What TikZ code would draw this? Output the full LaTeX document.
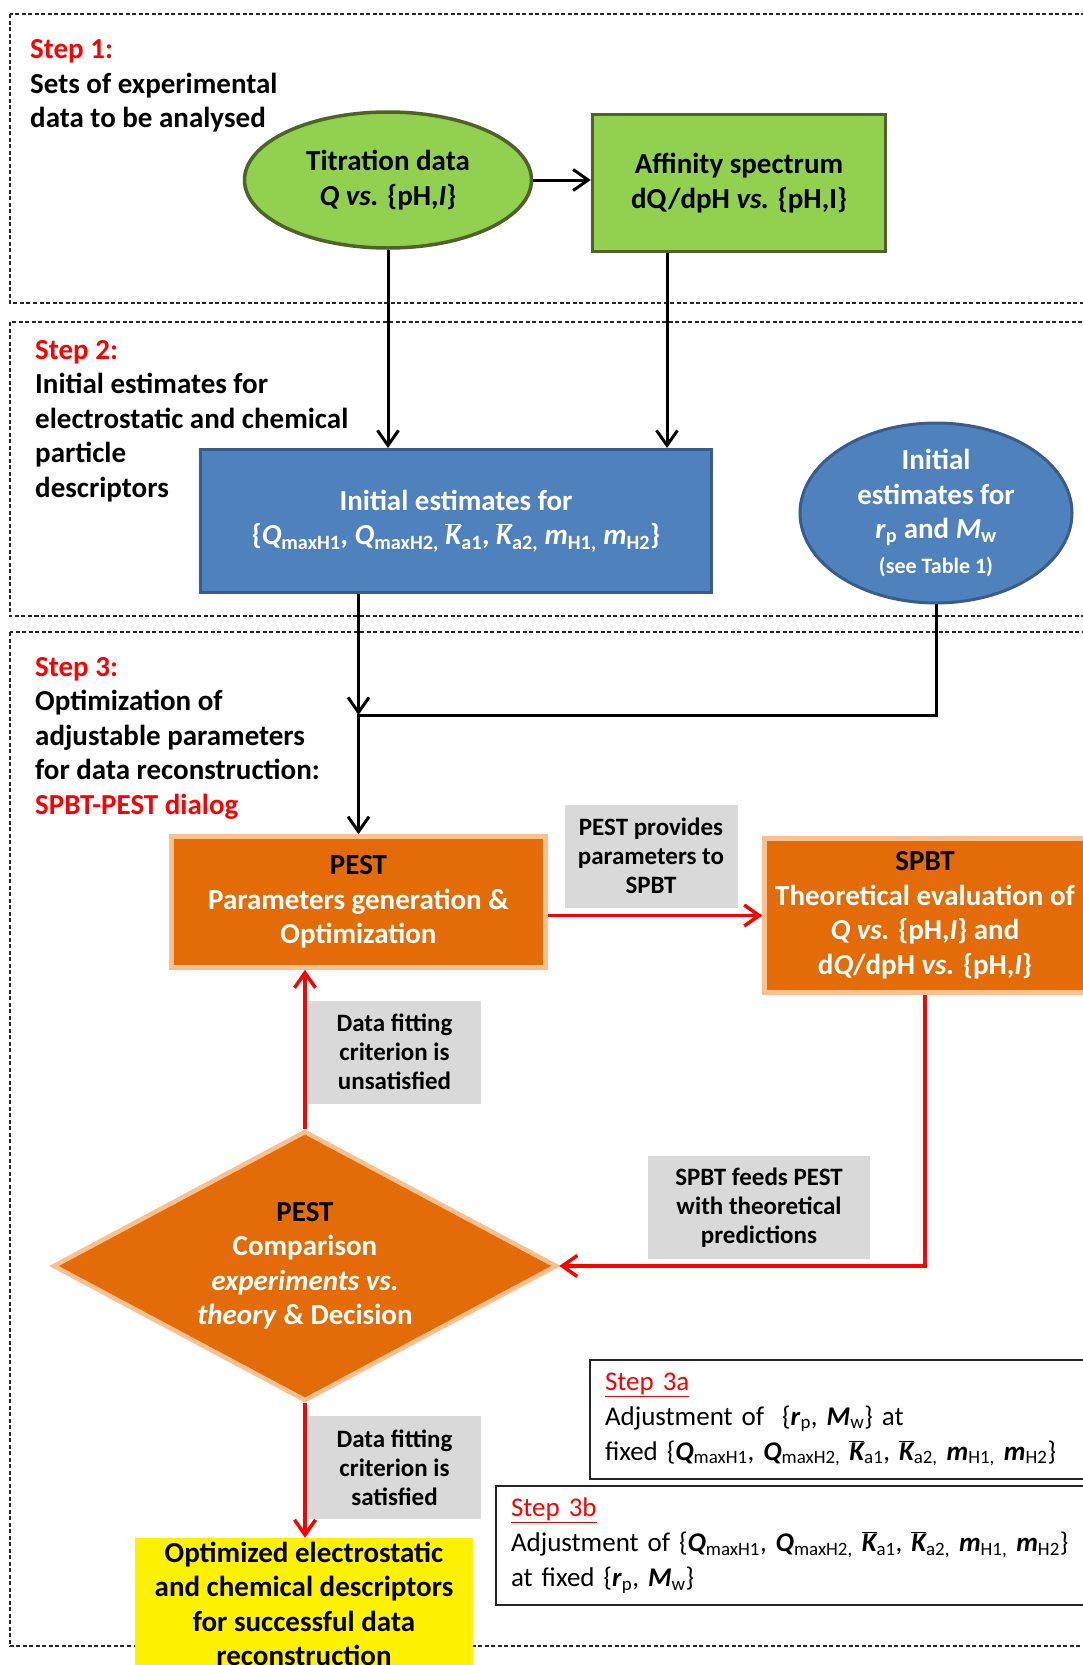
\documentclass[tikz,border=0pt]{standalone}
\usepackage{fontspec}
\setmainfont{Carlito}
\usetikzlibrary{arrows.meta,shapes.geometric}

\definecolor{leaf}{HTML}{92D050}
\definecolor{leafdark}{HTML}{4F6228}
\definecolor{boxblue}{HTML}{4F81BD}
\definecolor{bluedark}{HTML}{385D8A}
\definecolor{ochre}{HTML}{E36C09}
\definecolor{ochrelight}{HTML}{FAC090}
\definecolor{notegray}{HTML}{D9D9D9}

\newcommand{\mainfs}{\fontsize{29}{34.5}\selectfont\bfseries}
\newcommand{\notefs}{\fontsize{25}{29}\selectfont\bfseries}
\newcommand{\bfit}[1]{\textbf{\textit{#1}}}
\newcommand{\barK}{\ensuremath{\overline{\mbox{\bfseries\itshape K}}}}
\newcommand{\pset}{\{\bfit{Q}\textsubscript{maxH1}, \bfit{Q}\textsubscript{maxH2,} \barK\textsubscript{a1}, \barK\textsubscript{a2,} \bfit{m}\textsubscript{H1,} \bfit{m}\textsubscript{H2}\}}

\begin{document}
\begin{tikzpicture}[x=1pt,y=-1pt,>={Straight Barb[length=15pt,width=21pt]}]
  \tikzstyle{stepframe}=[draw=black!85,line width=1.3pt,dash pattern=on 4pt off 2.5pt]
  \tikzstyle{steptext}=[anchor=west,align=left,inner sep=0pt,font=\mainfs]
  \tikzstyle{greenbox}=[draw=leafdark,fill=leaf,line width=3.5pt,align=center,inner sep=0pt,font=\mainfs]
  \tikzstyle{bluebox}=[draw=bluedark,fill=boxblue,line width=3pt,text=white,align=center,inner sep=0pt,font=\mainfs]
  \tikzstyle{orangebox}=[draw=ochrelight,fill=ochre,line width=4.5pt,text=white,align=center,inner sep=0pt,font=\mainfs]
  \tikzstyle{note}=[fill=notegray,minimum width=173pt,minimum height=103pt,align=center,inner sep=0pt,font=\notefs]
  \tikzstyle{adjbox}=[draw=black!85,line width=2pt,anchor=west,align=left,text width=580pt,inner xsep=15pt,inner ysep=0pt,minimum height=119pt,font=\fontsize{27}{35}\selectfont]
  \tikzstyle{blackflow}=[->,line width=3pt]
  \tikzstyle{redflow}=[->,red,line width=3.5pt]

  \path[use as bounding box,fill=white] (0,0) rectangle (1083,1665);

  % the three steps
  \draw[stepframe] (10,14) rectangle (1110,303);
  \draw[stepframe] (10,322) rectangle (1110,616);
  \draw[stepframe] (10,632) rectangle (1110,1646);

  \node[steptext] (s1) at (30,86) {\textcolor{red}{Step 1:}\\Sets of experimental\\data to be analysed};
  \node[steptext] (s2) at (35,421) {\textcolor{red}{Step 2:}\\Initial estimates for\\electrostatic and chemical\\particle\\descriptors};
  \node[steptext] (s3) at (35,738) {\textcolor{red}{Step 3:}\\Optimization of\\adjustable parameters\\for data reconstruction:\\\textcolor{red}{SPBT-PEST dialog}};

  \node[greenbox,ellipse,minimum width=287pt,minimum height=136pt] (titr) at (388,180) {Titration data\\\textit{Q vs.} \{pH,\textit{I}\}};
  \node[greenbox,minimum width=293pt,minimum height=137pt] (aff) at (739,183) {Affinity spectrum\\dQ/dpH \textit{vs.} \{pH,I\}};
  \node[bluebox,minimum width=511pt,minimum height=143pt] (init) at (456,521) {Initial estimates for\\\pset};
  \node[bluebox,ellipse,minimum width=272pt,minimum height=161pt] (rpmw) at (936,513) {Initial\\estimates for\\\textit{r}\textsubscript{p} and \textit{M}\textsubscript{w}\\{\fontsize{22}{24}\selectfont(see Table 1)}};

  \node[orangebox,minimum width=374pt,minimum height=131pt] (pest) at (358.5,902) {{\color{black}PEST}\\Parameters generation \&\\Optimization};
  \node[orangebox,minimum width=321pt,minimum height=154pt] (spbt) at (925,915.5) {{\color{black}SPBT}\\Theoretical evaluation of\\\textit{Q vs.} \{pH,\textit{I}\} and\\d\textit{Q}/dpH \textit{vs.} \{pH,\textit{I}\}};
  \node[orangebox,diamond,shape aspect=1.85,minimum width=504pt,minimum height=270pt] (dec) at (305,1266) {{\color{black}PEST}\\Comparison\\\textit{experiments vs.}\\\textit{theory} \& Decision};
  \node[fill=yellow,minimum width=338pt,minimum height=132pt,align=center,inner sep=0pt,font=\mainfs] (opt) at (304,1604) {Optimized electrostatic\\and chemical descriptors\\for successful data\\reconstruction};

  \node[note] (give) at (651,856) {PEST provides\\parameters to\\SPBT};
  \node[note] (unsat) at (394.5,1052) {Data fitting\\criterion is\\unsatisfied};
  \node[note,minimum width=222pt] (feed) at (759,1207.5) {SPBT feeds PEST\\with theoretical\\predictions};
  \node[note] (sat) at (394.5,1467.5) {Data fitting\\criterion is\\satisfied};

  \node[adjbox] (adja) at (589,1419.5) {\textcolor{red}{\underline{Step 3a}}\\Adjustment of~ \{\bfit{r}\textsubscript{p}, \bfit{M}\textsubscript{w}\} at\\fixed \pset};
  \node[adjbox] (adjb) at (495,1545.5) {\textcolor{red}{\underline{Step 3b}}\\Adjustment of \pset\\at fixed \{\bfit{r}\textsubscript{p}, \bfit{M}\textsubscript{w}\}};

  % connectors
  \coordinate (join) at (358.5,715);
  \draw[blackflow] (titr.east) -- (titr.east -| aff.west);
  \draw[blackflow] (titr.south) -- (titr.south |- init.north);
  \draw[blackflow] ([xshift=-72pt]aff.south) -- ([xshift=-72pt]aff.south |- init.north);
  \draw[blackflow] (init.south -| join) -- (join);
  \draw[blackflow] (rpmw.south) |- (join) -- (pest.north);

  \draw[redflow] (pest.east |- spbt.west) -- (spbt.west);
  \draw[redflow] (spbt.south) |- (dec.east);
  \draw[redflow] (dec.north) -- (dec.north |- pest.south);
  \draw[redflow] (dec.south) -- (dec.south |- opt.north);
\end{tikzpicture}
\end{document}
